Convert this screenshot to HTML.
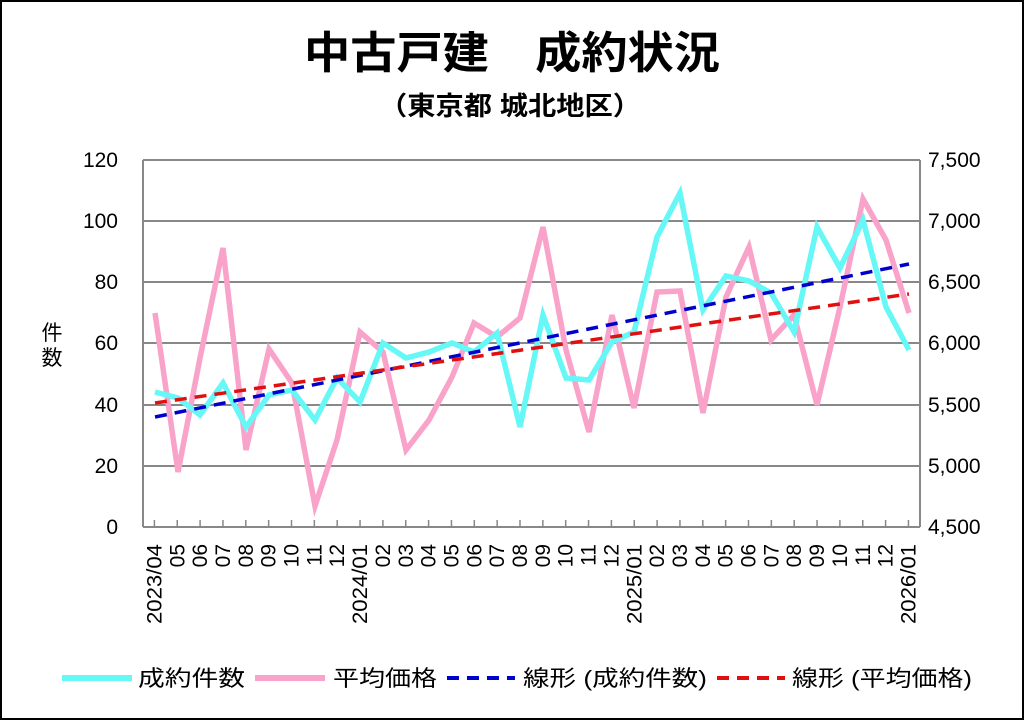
<!DOCTYPE html>
<html><head><meta charset="utf-8"><style>
html,body{margin:0;padding:0;background:#fff}
svg{display:block}
text{font-family:"Liberation Sans","Noto Sans CJK JP",sans-serif}
</style></head><body>
<svg width="1024" height="720" viewBox="0 0 1024 720" xmlns="http://www.w3.org/2000/svg">
<rect x="1" y="1" width="1022" height="718" fill="#fff" stroke="#000" stroke-width="2"/>
<text x="512" y="68" text-anchor="middle" font-size="44" font-weight="bold" font-family="Noto Sans CJK JP, sans-serif" textLength="416" lengthAdjust="spacingAndGlyphs">中古戸建　成約状況</text>
<text x="510" y="115" text-anchor="middle" font-size="26" font-weight="bold" font-family="Noto Sans CJK JP, sans-serif" textLength="262" lengthAdjust="spacingAndGlyphs">（東京都 城北地区）</text>
<g stroke="#888" stroke-width="2">
<line x1="143" y1="160" x2="920" y2="160"/>
<line x1="143" y1="221" x2="920" y2="221"/>
<line x1="143" y1="282" x2="920" y2="282"/>
<line x1="143" y1="343" x2="920" y2="343"/>
<line x1="143" y1="405" x2="920" y2="405"/>
<line x1="143" y1="466" x2="920" y2="466"/>
<line x1="143" y1="527" x2="920" y2="527"/>
<line x1="143" y1="160" x2="143" y2="527"/>
<line x1="920" y1="160" x2="920" y2="527"/>
</g>
<g stroke="#888" stroke-width="1.5" id="ticks"></g>
<g font-size="21" text-anchor="end">
<text x="118" y="167">120</text><text x="118" y="228">100</text><text x="118" y="289">80</text><text x="118" y="350">60</text><text x="118" y="412">40</text><text x="118" y="473">20</text><text x="118" y="534">0</text>
</g>
<g font-size="21" text-anchor="start">
<text x="928" y="167">7,500</text><text x="928" y="228">7,000</text><text x="928" y="289">6,500</text><text x="928" y="350">6,000</text><text x="928" y="412">5,500</text><text x="928" y="473">5,000</text><text x="928" y="534">4,500</text>
</g>
<text x="52" y="340" text-anchor="middle" font-size="21">件</text>
<text x="52" y="365" text-anchor="middle" font-size="21">数</text>
<g id="xl" font-size="21" text-anchor="end"></g>
<polyline fill="none" stroke="#f9a3cb" stroke-width="5.5" points="155,313 178,472 200,358 223,248 246,450 269,349 292,383 315,506 337,440 360,332 383,352 406,450 429,420 452,377 474,323 497,337 520,318 543,227 566,350 589,432 612,315 634,408 657,292 680,291 703,413 726,297 749,247 771,340 794,315 817,405 840,307 863,199 886,240 909,313"/>
<polyline fill="none" stroke="#66f7f7" stroke-width="5.5" points="155,392 178,398 200,415 223,383 246,427 269,395 292,390 315,420 337,378 360,402 383,343 406,358 429,352 452,343 474,352 497,333 520,427 543,315 566,378 589,380 612,342 634,332 657,237 680,193 703,310 726,276 749,281 771,293 794,332 817,227 840,268 863,220 886,307 909,350"/>
<line x1="155" y1="417" x2="909" y2="264" stroke="#0000cc" stroke-width="3.5" stroke-dasharray="12,8"/>
<line x1="155" y1="403" x2="909" y2="294" stroke="#e01010" stroke-width="3.5" stroke-dasharray="12,8"/>
<g font-size="22">
<line x1="62" y1="678" x2="132" y2="678" stroke="#66f7f7" stroke-width="6"/>
<text x="138" y="686" textLength="107" lengthAdjust="spacingAndGlyphs">成約件数</text>
<line x1="255" y1="678" x2="325" y2="678" stroke="#f9a3cb" stroke-width="6"/>
<text x="333" y="686" textLength="104" lengthAdjust="spacingAndGlyphs">平均価格</text>
<line x1="447" y1="678" x2="515" y2="678" stroke="#0000cc" stroke-width="4" stroke-dasharray="12,8"/>
<text x="523" y="686" textLength="184" lengthAdjust="spacingAndGlyphs">線形 (成約件数)</text>
<line x1="717" y1="678" x2="785" y2="678" stroke="#e01010" stroke-width="4" stroke-dasharray="12,8"/>
<text x="792" y="686" textLength="180" lengthAdjust="spacingAndGlyphs">線形 (平均価格)</text>
</g>
<script>
var labels=["2023/04","05","06","07","08","09","10","11","12","2024/01","02","03","04","05","06","07","08","09","10","11","12","2025/01","02","03","04","05","06","07","08","09","10","11","12","2026/01"];
var ns="http://www.w3.org/2000/svg",xl=document.getElementById("xl"),tk=document.getElementById("ticks");
for(var i=0;i<34;i++){var x=154.4+i*22.85;
var t=document.createElementNS(ns,"text");t.setAttribute("transform","translate("+(x+7)+",544) rotate(-90)");t.textContent=labels[i];
if(labels[i].length>2){t.setAttribute("textLength","80");t.setAttribute("lengthAdjust","spacingAndGlyphs");}
xl.appendChild(t);
var l=document.createElementNS(ns,"line");l.setAttribute("x1",x);l.setAttribute("x2",x);l.setAttribute("y1",520);l.setAttribute("y2",527);tk.appendChild(l);}
</script>
</svg>
</body></html>
